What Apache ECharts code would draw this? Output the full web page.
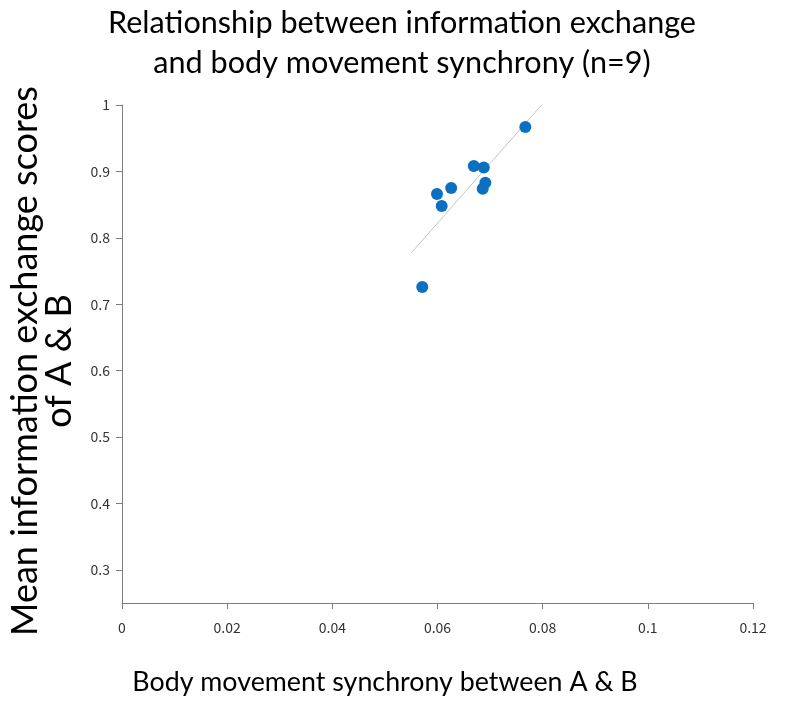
<!DOCTYPE html>
<html>
<head>
<meta charset="utf-8">
<script src="https://cdn.jsdelivr.net/npm/echarts@6/dist/echarts.min.js"></script>
<style>
html,body{margin:0;padding:0;background:#fff;}
#chart{width:790px;height:701px;}
</style>
</head>
<body>
<div id="chart"></div>
<script>
// Data
var synchrony = [0.0767, 0.0669, 0.0688, 0.0691, 0.0686, 0.0626, 0.0599, 0.0608, 0.0571];
var exchangeScores = [0.967, 0.908, 0.906, 0.883, 0.874, 0.875, 0.866, 0.848, 0.726];
var trendRange = [0.055, 0.08];
var xTicks = [0, 0.02, 0.04, 0.06, 0.08, 0.1, 0.12];
var yTicks = [0.3, 0.4, 0.5, 0.6, 0.7, 0.8, 0.9, 1];
var titleText = 'Relationship between information exchange\nand body movement synchrony (n=9)';
var xName = 'Body movement synchrony between A & B';
var yName = 'Mean information exchange scores\nof A & B';

// Least-squares trend line computed from the data
function regression(xs, ys) {
  var n = xs.length, mx = 0, my = 0;
  for (var i = 0; i < n; i++) { mx += xs[i]; my += ys[i]; }
  mx /= n; my /= n;
  var sxy = 0, sxx = 0;
  for (var j = 0; j < n; j++) { sxy += (xs[j]-mx)*(ys[j]-my); sxx += (xs[j]-mx)*(xs[j]-mx); }
  var b = sxy / sxx;
  return { slope: b, intercept: my - b*mx };
}
var reg = regression(synchrony, exchangeScores);
var trendData = trendRange.map(function (x) { return [x, reg.intercept + reg.slope * x]; });
var points = synchrony.map(function (x, i) { return [x, exchangeScores[i]]; });

function fmt(v) { return String(+v.toFixed(2)); }

var chart = echarts.init(document.getElementById('chart'), null, {renderer: 'canvas'});
chart.setOption({
  animation: false,
  backgroundColor: '#ffffff',
  title: {
    text: titleText,
    left: 397,
    top: -2,
    textAlign: 'center',
    textStyle: {fontFamily: 'Lato', fontSize: 30.6, fontWeight: 'normal', color: '#000', lineHeight: 40}
  },
  grid: {left: 122, right: 37, top: 105, bottom: 98, containLabel: false, outerBoundsMode: 'none'},
  xAxis: {
    type: 'value',
    min: 0, max: 0.12, interval: 0.02,
    name: xName,
    nameLocation: 'middle',
    nameGap: 66,
    nameTextStyle: {fontFamily: 'Lato', fontSize: 26.8, color: '#000', padding: [0, 105, 0, 0]},
    axisLine: {show: true, lineStyle: {color: '#7f7f7f', width: 1}},
    axisTick: {show: true, inside: false, length: 6, lineStyle: {color: '#7f7f7f'}, customValues: xTicks},
    axisLabel: {fontFamily: 'Noto Sans CJK JP', fontSize: 14, color: '#333', margin: 18, formatter: fmt, customValues: xTicks},
    splitLine: {show: false}
  },
  yAxis: {
    type: 'value',
    min: 0.25, max: 1,
    name: yName,
    nameLocation: 'middle',
    nameRotate: 90,
    nameGap: 46,
    nameTextStyle: {fontFamily: 'Lato', fontSize: 36, color: '#000', lineHeight: 34, padding: [0, 14, 0, 0]},
    axisLine: {show: true, lineStyle: {color: '#7f7f7f', width: 1}},
    axisTick: {show: true, inside: false, length: 6, lineStyle: {color: '#7f7f7f'}, customValues: yTicks},
    axisLabel: {fontFamily: 'Noto Sans CJK JP', fontSize: 14, color: '#333', margin: 12, formatter: fmt, customValues: yTicks},
    splitLine: {show: false}
  },
  series: [
    {
      type: 'line',
      data: trendData,
      symbol: 'none',
      lineStyle: {color: '#c4c4c4', width: 1},
      silent: true,
      z: 1
    },
    {
      type: 'scatter',
      data: points,
      symbol: 'circle',
      symbolSize: 12,
      itemStyle: {color: '#0B70C1', opacity: 1},
      z: 2
    }
  ]
});
</script>
</body>
</html>
